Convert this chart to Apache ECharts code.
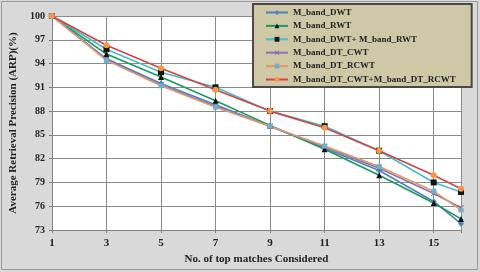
<!DOCTYPE html>
<html>
<head>
<meta charset="utf-8">
<script src="https://cdn.jsdelivr.net/npm/echarts@6/dist/echarts.min.js"></script>
<style>
  html, body { margin: 0; padding: 0; background: #d9d9d9; }
  #chart { width: 480px; height: 272px; }
</style>
</head>
<body>
<div id="chart"></div>
<script>
// top matches considered
var matches = [1, 3, 5, 7, 9, 11, 13, 15, 16];

// ARP (%) per method
var dwt = [100, 94.6, 91.5, 88.8, 86.1, 83.3, 80.5, 76.6, 73.8];
var rwt = [100, 95.2, 92.3, 89.3, 86.2, 83.2, 79.9, 76.4, 74.4];
var dwtRwt = [100, 95.8, 92.9, 91.0, 88.0, 86.1, 83.0, 79.0, 77.8];
var dtCwt = [100, 94.5, 91.3, 88.6, 86.1, 83.5, 80.8, 77.6, 75.8];
var dtRcwt = [100, 94.4, 91.2, 88.5, 86.1, 83.6, 81.0, 77.9, 75.5];
var dtCwtRcwt = [100, 96.3, 93.4, 90.7, 88.0, 85.9, 83.0, 79.9, 78.2];

var seriesNames = ['M_band_DWT', 'M_band_RWT', 'M_band_DWT+ M_band_RWT',
                   'M_band_DT_CWT', 'M_band_DT_RCWT', 'M_band_DT_CWT+M_band_DT_RCWT'];

var xTicks = [1, 3, 5, 7, 9, 11, 13, 15];

var SERIF = '"Liberation Serif", "DejaVu Serif", serif';
var CROSS = 'path://M0,1L1,0L5,4L9,0L10,1L6,5L10,9L9,10L5,6L1,10L0,9L4,5Z';

function pairs(values) {
  return matches.map(function (m, i) { return [m, values[i]]; });
}

function makeSeries(name, values, lineColor, symbol, symbolColor, size) {
  return {
    name: name,
    type: 'line',
    data: pairs(values),
    symbol: symbol,
    symbolSize: size,
    showAllSymbol: true,
    lineStyle: { color: lineColor, width: 1.6 },
    itemStyle: { color: symbolColor, borderWidth: 0 },
    color: lineColor,
    emphasis: { disabled: true }
  };
}

var chart = echarts.init(document.getElementById('chart'));

var option = {
  backgroundColor: '#d9d9d9',
  animation: false,
  graphic: [{
    type: 'rect',
    shape: { x: 1.5, y: 1.5, width: 476, height: 268 },
    style: { fill: 'none', stroke: '#9a9a9a', lineWidth: 1 },
    silent: true
  }],
  grid: {
    left: 48, right: 19, top: 16, bottom: 42,
    show: true, backgroundColor: '#ffffff', borderWidth: 0
  },
  legend: {
    orient: 'vertical',
    left: 253, top: 4,
    padding: [4, 16, 3, 12],
    itemGap: 4.4,
    itemWidth: 22, itemHeight: 6,
    backgroundColor: '#cfc8a6',
    borderColor: '#4a4a4a', borderWidth: 2,
    textStyle: { fontFamily: SERIF, fontWeight: 'bold', fontSize: 9, color: '#222' },
    data: seriesNames
  },
  xAxis: {
    type: 'value',
    min: 1, max: 16, interval: 2,
    name: 'No. of top matches Considered',
    nameLocation: 'middle', nameGap: 19,
    nameTextStyle: { fontFamily: SERIF, fontWeight: 'bold', fontSize: 11, color: '#222' },
    axisLine: { lineStyle: { color: '#808080', width: 1 } },
    axisTick: { show: true, length: 3, lineStyle: { color: '#808080' } },
    axisLabel: {
      fontFamily: SERIF, fontWeight: 'bold', fontSize: 11, color: '#222', margin: 8,
      formatter: function (v) { return xTicks.indexOf(v) >= 0 ? String(v) : ''; }
    },
    splitLine: { show: true, lineStyle: { color: '#8a8a8a', width: 1 } }
  },
  yAxis: {
    type: 'value',
    min: 73, max: 100, interval: 3,
    name: 'Average Retrieval Precision (ARP)(%)',
    nameLocation: 'middle', nameGap: 30,
    nameTextStyle: { fontFamily: SERIF, fontWeight: 'bold', fontSize: 11, color: '#222' },
    axisLine: { show: true, lineStyle: { color: '#808080', width: 1 } },
    axisTick: { show: true, length: 3, lineStyle: { color: '#808080' } },
    axisLabel: { fontFamily: SERIF, fontWeight: 'bold', fontSize: 10, color: '#222', margin: 7 },
    splitLine: { show: true, lineStyle: { color: '#8a8a8a', width: 1 } }
  },
  series: [
    makeSeries(seriesNames[0], dwt, '#4f81bd', 'diamond', '#4f81bd', 6),
    makeSeries(seriesNames[1], rwt, '#1a9a5a', 'triangle', '#111111', 6),
    makeSeries(seriesNames[2], dwtRwt, '#3fbfcf', 'rect', '#111111', 6),
    makeSeries(seriesNames[3], dtCwt, '#8a72b0', CROSS, '#7f6aa8', 6),
    makeSeries(seriesNames[4], dtRcwt, '#e39a6a', 'rect', '#6fb0c8', 5),
    makeSeries(seriesNames[5], dtCwtRcwt, '#d8423f', 'circle', '#f79646', 6)
  ]
};

chart.setOption(option);
</script>
</body>
</html>
